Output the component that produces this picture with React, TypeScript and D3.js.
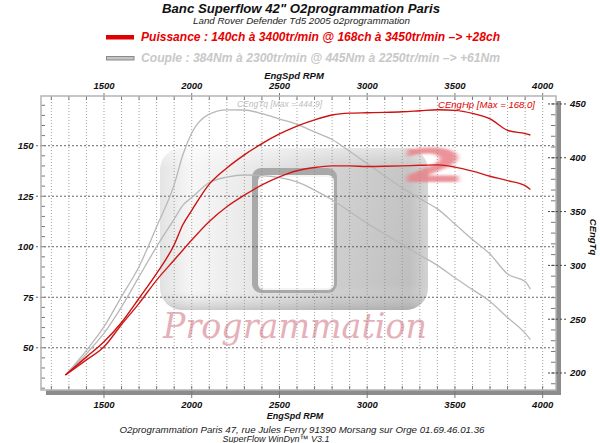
import React from 'react'
import * as d3 from 'd3'

// régime moteur (tr/min)
const rpm = [1280, 1400, 1500, 1600, 1700, 1800, 1900, 1950, 2000, 2100, 2200, 2300, 2400, 2500, 2600, 2700, 2800, 2900, 3000, 3100, 3200, 3300, 3400, 3500, 3600, 3700, 3800, 3900, 3930]

// puissance (ch)
const puissanceApres = [36.5, 45.5, 53, 62.5, 74.5, 86.8, 101, 111, 118, 131, 139, 145.5, 151, 155.8, 159.7, 162.8, 165.2, 166.1, 166.3, 166.5, 166.8, 167.3, 167.8, 167.5, 166, 163.3, 157.6, 156, 155.3]
const puissanceAvant = [36.5, 44, 50.5, 61.5, 72, 83.5, 93.4, 98.4, 103.3, 112.5, 119.8, 125.5, 130.6, 134.6, 137.6, 139.2, 140, 140, 139.7, 139.8, 140, 140.3, 140.5, 139.4, 137.4, 134.9, 132.7, 130.2, 128.3]

// couple (Nm)
const coupleApres = [198, 221, 243, 271, 299, 336, 375, 403, 423, 440.5, 444.5, 444.4, 441, 436, 431, 424, 417, 406, 394.5, 383, 372, 362, 352.5, 338.5, 324, 310.5, 292, 285, 278]
const coupleAvant = [198, 218, 237, 261.5, 289.5, 317.4, 343, 356, 363, 377, 382, 384, 383.5, 381.5, 377.5, 370, 361, 350, 339, 329, 319.5, 309.5, 300, 288.5, 277.5, 266.5, 251.5, 237, 231]

const rpmLabels = [1500, 2000, 2500, 3000, 3500, 4000]
const chLabels = [50, 75, 100, 125, 150]
const nmLabels = [200, 250, 300, 350, 400, 450]

const FONT = '"Liberation Sans", Arial, sans-serif'

export default () => {
  const left = 41
  const right = 556
  const top = 96
  const bottom = 390

  const x = d3.scaleLinear().domain([1141, 4076]).range([left, right])
  const yCh = d3.scaleLinear().domain([29.1, 174.6]).range([bottom, top])
  const yNm = d3.scaleLinear().domain([184.2, 457.4]).range([bottom, top])

  const lineCh = d3
    .line<number>()
    .x((_, i) => x(rpm[i]))
    .y(d => yCh(d))
    .curve(d3.curveMonotoneX)
  const lineNm = d3
    .line<number>()
    .x((_, i) => x(rpm[i]))
    .y(d => yNm(d))
    .curve(d3.curveMonotoneX)

  const rpmTicks = d3.range(1200, 4001, 100)
  const chMinor = d3.range(30, 175, 5)
  const nmMinor = d3.range(190, 456, 10)

  return (
    <svg width={600} height={443} style={{ position: 'absolute', left: 0, top: 0, background: '#fff' }}>
      <defs>
        <linearGradient id="logoGrad" x1="0" x2="1" y1="0" y2="0">
          <stop offset="0" stopColor="#e2e2e2" />
          <stop offset="0.12" stopColor="#f6f6f6" />
          <stop offset="0.33" stopColor="#e8e8e8" />
          <stop offset="0.66" stopColor="#cdcdcd" />
          <stop offset="0.93" stopColor="#bfbfbf" />
          <stop offset="1" stopColor="#d2d2d2" />
        </linearGradient>
        <linearGradient id="logoShade" x1="0" x2="0" y1="0" y2="1">
          <stop offset="0" stopColor="#ffffff" stopOpacity="0.55" />
          <stop offset="0.12" stopColor="#ffffff" stopOpacity="0.1" />
          <stop offset="0.85" stopColor="#ffffff" stopOpacity="0" />
          <stop offset="1" stopColor="#909090" stopOpacity="0.4" />
        </linearGradient>
        <filter id="soft" x="-20%" y="-20%" width="140%" height="140%">
          <feGaussianBlur stdDeviation="1.3" />
        </filter>
      </defs>

      {/* titres */}
      <text x={301} y={13} textAnchor="middle" fontFamily={FONT} fontSize={13} fontWeight="bold" fontStyle="italic" fill="#111" textLength={278} lengthAdjust="spacingAndGlyphs">
        Banc Superflow 42" O2programmation Paris
      </text>
      <text x={301.5} y={23.5} textAnchor="middle" fontFamily={FONT} fontSize={9} fontStyle="italic" fill="#222" textLength={217} lengthAdjust="spacingAndGlyphs">
        Land Rover Defender Td5 2005 o2programmation
      </text>

      {/* légende */}
      <rect x={106} y={35} width={28} height={4.5} fill="#e00000" />
      <text x={141} y={40.5} fontFamily={FONT} fontSize={12} fontWeight="bold" fontStyle="italic" fill="#e80000" textLength={359} lengthAdjust="spacingAndGlyphs">
        Puissance : 140ch à 3400tr/min @ 168ch à 3450tr/min  –&gt; +28ch
      </text>
      <rect x={106.5} y={56.5} width={27.5} height={3.5} fill="#c4c4c4" stroke="#8a8a8a" strokeWidth={1} />
      <text x={141} y={62} fontFamily={FONT} fontSize={12} fontWeight="bold" fontStyle="italic" fill="#c8c8c8" textLength={359} lengthAdjust="spacingAndGlyphs">
        Couple :  384Nm à 2300tr/min @ 445Nm à 2250tr/min –&gt; +61Nm
      </text>

      {/* axe du haut */}
      <text x={294} y={79} textAnchor="middle" fontFamily={FONT} fontSize={9.5} fontWeight="bold" fontStyle="italic" fill="#111">
        EngSpd RPM
      </text>
      {rpmLabels.map(v => (
        <text key={'t' + v} x={x(v)} y={89} textAnchor="middle" fontFamily={FONT} fontSize={9.5} fontWeight="bold" fontStyle="italic" fill="#111">
          {v}
        </text>
      ))}

      {/* ombre + zone de tracé */}
      <rect x={left + 5} y={top + 5} width={right - left} height={bottom - top} fill="#8c8c8c" />
      <rect x={left} y={top} width={right - left} height={bottom - top} fill="#fff" />

      {/* filigrane */}
      <g>
        <rect x={160} y={148} width={268} height={162} rx={22} fill="url(#logoGrad)" />
        <rect x={160} y={148} width={268} height={162} rx={22} fill="url(#logoShade)" />
        <rect x={252} y={168} width={85} height={125} rx={9} fill="#a9a9a9" />
        <rect x={258} y={175} width={76} height={115} rx={6} fill="#f4f4f4" />
        <rect x={261} y={177} width={71} height={111} rx={5} fill="#fff" />
        <g transform="translate(433,182) scale(2.1,1)" filter="url(#soft)">
          <text x={0} y={0} textAnchor="middle" fontFamily='"DejaVu Sans", sans-serif' fontWeight="bold" fontSize={46} fill="#e88088" opacity={0.85}>
            2
          </text>
        </g>
        <text x={163} y={338} fontFamily='"DejaVu Serif", serif' fontStyle="italic" fontSize={36} fill="#e6b0b8" textLength={264} lengthAdjust="spacingAndGlyphs">
          Programmation
        </text>
      </g>

      {/* grille */}
      {rpmTicks.map(v => (
        <line key={'g' + v} x1={x(v)} x2={x(v)} y1={top} y2={bottom} stroke="#8a8a8a" strokeWidth={0.8} strokeDasharray="1,2" />
      ))}
      {chLabels.map(v => (
        <line key={'h' + v} x1={36} x2={right} y1={yCh(v)} y2={yCh(v)} stroke="#555" strokeWidth={0.9} strokeDasharray="2,2" />
      ))}

      {/* graduations */}
      {rpmTicks.map(v => (
        <g key={'k' + v}>
          <line x1={x(v)} x2={x(v)} y1={top - (v % 500 === 0 ? 3 : 0)} y2={top + 4} stroke="#777" strokeWidth={1} />
          <line x1={x(v)} x2={x(v)} y1={bottom - 4} y2={bottom + (v % 500 === 0 ? 8 : 0)} stroke="#777" strokeWidth={1} />
        </g>
      ))}
      {chMinor.map(v => (
        <line key={'c' + v} x1={left} x2={left + 4} y1={yCh(v)} y2={yCh(v)} stroke="#777" strokeWidth={1} />
      ))}
      {nmMinor.map(v => (
        <line key={'n' + v} x1={right - 5} x2={right} y1={yNm(v)} y2={yNm(v)} stroke="#777" strokeWidth={1} />
      ))}

      {/* bordure */}
      <rect x={left} y={top} width={right - left} height={bottom - top} fill="none" stroke="#b4b4b4" strokeWidth={1.5} />

      {/* courbes */}
      <path d={lineNm(coupleAvant) as string} fill="none" stroke="#b8b8b8" strokeWidth={1.3} />
      <path d={lineNm(coupleApres) as string} fill="none" stroke="#b8b8b8" strokeWidth={1.3} />
      <path d={lineCh(puissanceAvant) as string} fill="none" stroke="#d01818" strokeWidth={1.4} />
      <path d={lineCh(puissanceApres) as string} fill="none" stroke="#cc1010" strokeWidth={1.4} />

      <text x={237} y={107} fontFamily={FONT} fontSize={9.5} fontStyle="italic" fill="#bdbdbd" textLength={85} lengthAdjust="spacingAndGlyphs">
        CEngTq [Max = 444.9]
      </text>
      <text x={438} y={108} fontFamily={FONT} fontSize={9.5} fontStyle="italic" fill="#e00000" textLength={97} lengthAdjust="spacingAndGlyphs">
        CEngHp [Max = 168.0]
      </text>

      {/* axe gauche */}
      {chLabels.map(v => (
        <text key={'l' + v} x={33.5} y={yCh(v) + 3.5} textAnchor="end" fontFamily={FONT} fontSize={9.5} fontWeight="bold" fontStyle="italic" fill="#111">
          {v}
        </text>
      ))}

      {/* axe droit */}
      {nmLabels.map(v => (
        <g key={'r' + v}>
          <line x1={right - 8} x2={568} y1={yNm(v)} y2={yNm(v)} stroke="#444" strokeWidth={1} strokeDasharray="2,2" />
          <text x={570} y={yNm(v) + 3.5} fontFamily={FONT} fontSize={9.5} fontWeight="bold" fontStyle="italic" fill="#111">
            {v}
          </text>
        </g>
      ))}
      <text transform={`translate(590,237) rotate(90)`} textAnchor="middle" fontFamily={FONT} fontSize={9.5} fontWeight="bold" fontStyle="italic" fill="#111">
        CEngTq
      </text>

      {/* axe du bas */}
      {rpmLabels.map(v => (
        <text key={'b' + v} x={x(v)} y={408} textAnchor="middle" fontFamily={FONT} fontSize={9.5} fontWeight="bold" fontStyle="italic" fill="#111">
          {v}
        </text>
      ))}
      <text x={295} y={418.5} textAnchor="middle" fontFamily={FONT} fontSize={9} fontWeight="bold" fontStyle="italic" fill="#111">
        EngSpd RPM
      </text>

      {/* pied de page */}
      <text x={302} y={433} textAnchor="middle" fontFamily={FONT} fontSize={9} fontStyle="italic" fill="#222" textLength={365} lengthAdjust="spacingAndGlyphs">
        O2programmation Paris 47, rue Jules Ferry 91390 Morsang sur Orge 01.69.46.01.36
      </text>
      <text x={276} y={441.5} textAnchor="middle" fontFamily={FONT} fontSize={9} fontStyle="italic" fill="#222">
        SuperFlow WinDyn™ V3.1
      </text>
    </svg>
  )
}
